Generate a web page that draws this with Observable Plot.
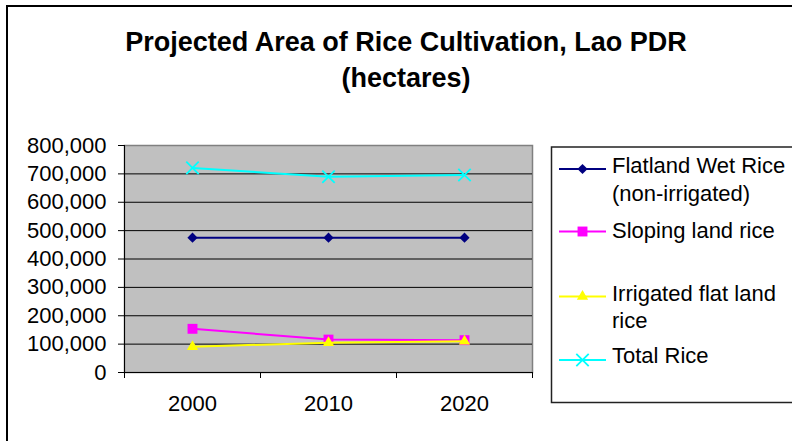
<!DOCTYPE html>
<html><head><meta charset="utf-8">
<script src="https://cdn.jsdelivr.net/npm/d3@7"></script>
<script src="https://cdn.jsdelivr.net/npm/@observablehq/plot@0.6"></script>
<style>
body{margin:0;background:#fff;width:792px;height:441px;overflow:hidden;position:relative;font-family:'Liberation Sans',Arial,sans-serif}
#frame{position:absolute;left:6px;top:5px;width:900px;height:600px;border:2px solid #000;}
#chart{position:absolute;left:0;top:0}
.ov{position:absolute;left:0;top:0;overflow:visible}
</style></head><body>
<div id="frame"></div>
<div id="chart"></div>
<svg id="title" class="ov" width="792" height="100"></svg>
<svg id="legend" class="ov" width="792" height="441"></svg>
<script>
const years = ["2000", "2010", "2020"];
const seriesNames = ["Flatland Wet Rice (non-irrigated)", "Sloping land rice", "Irrigated flat land rice", "Total Rice"];
const flatland = [475000, 475000, 475000];
const sloping = [154000, 116000, 114000];
const irrigated = [91000, 105000, 110000];
const total = [721000, 690000, 696000];
const yTicks = [0, 100000, 200000, 300000, 400000, 500000, 600000, 700000, 800000];
const seriesColors = ["#000080", "#ff00ff", "#ffff00", "#00ffff"];
const seriesSymbols = ["diamond2", "square2", "triangle2", "times"];
const titleLines = ["Projected Area of Rice Cultivation, Lao PDR", "(hectares)"];
const legendLines = [["Flatland Wet Rice", "(non-irrigated)"], ["Sloping land rice"], ["Irrigated flat land", "rice"], ["Total Rice"]];

const seriesValues = [flatland, sloping, irrigated, total];
const rows = seriesNames.flatMap((s, k) => years.map((yr, i) => ({series: s, year: yr, value: seriesValues[k][i]})));

const W = 792, H = 441, ML = 124, MR = 260, MT = 145, MB = 69;
const bw = (W - ML - MR) / years.length;
const symR = [4.6, 6.3, 5.4, 5.7];
const font = "'Liberation Sans', Arial, sans-serif";

const seriesMarks = seriesNames.flatMap((name, k) => {
  const d = rows.filter(r => r.series === name);
  const isStroke = seriesSymbols[k] === "times";
  return [
    Plot.line(d, {x: "year", y: "value", stroke: seriesColors[k], strokeWidth: 2}),
    Plot.dot(d, {x: "year", y: "value", symbol: seriesSymbols[k], r: symR[k],
      fill: isStroke ? "none" : seriesColors[k],
      stroke: isStroke ? seriesColors[k] : "none",
      strokeWidth: isStroke ? 1.8 : 0})
  ];
});

const chart = Plot.plot({
  width: W, height: H,
  marginLeft: ML, marginRight: MR, marginTop: MT, marginBottom: MB,
  x: {type: "band", domain: years, padding: 0},
  y: {domain: [0, 800000]},
  style: {fontFamily: font, fontSize: "22px", background: "transparent", color: "black", overflow: "visible"},
  marks: [
    Plot.frame({fill: "#c0c0c0", stroke: "#808080", strokeWidth: 1.5}),
    Plot.ruleY(yTicks.filter(v => v > 0 && v < 800000), {stroke: "black"}),
    Plot.ruleX([years[0]], {dx: -bw / 2, stroke: "black"}),
    Plot.ruleY([0], {stroke: "black"}),
    Plot.ruleX(years, {y1: 0, y2: 0, insetBottom: -6, dx: -bw / 2, stroke: "black"}),
    Plot.ruleX([years[years.length - 1]], {y1: 0, y2: 0, insetBottom: -6, dx: bw / 2, stroke: "black"}),
    Plot.axisY({ticks: yTicks, tickSize: 6, tickPadding: 12, tickFormat: d3.format(","), label: null}),
    Plot.axisX({tickSize: 0, tickPadding: 23, label: null}),
    ...seriesMarks
  ]
});
document.getElementById("chart").appendChild(chart);

// Title
const tsvg = d3.select("#title");
const titleBase = [51, 87];
titleLines.forEach((t, i) => {
  tsvg.append("text").attr("x", 406).attr("y", titleBase[i])
    .attr("text-anchor", "middle").attr("font-family", font)
    .attr("font-weight", "bold").attr("font-size", 27).attr("fill", "black").text(t);
});

// Legend
const lsvg = d3.select("#legend");
lsvg.append("rect").attr("x", 551.5).attr("y", 147).attr("width", 300).attr("height", 255.5)
  .attr("fill", "white").attr("stroke", "#222").attr("stroke-width", 1.5);
const textBase = [[173, 201], [238], [301, 328], [363]];
const symY = [169, 231.5, 296.5, 360];
const symMap = {diamond2: d3.symbolDiamond2, square2: d3.symbolSquare2, triangle2: d3.symbolTriangle2, times: d3.symbolTimes};
legendLines.forEach((lines, k) => {
  lsvg.append("line").attr("x1", 559).attr("x2", 606).attr("y1", symY[k]).attr("y2", symY[k])
    .attr("stroke", seriesColors[k]).attr("stroke-width", 2);
  const isStroke = seriesSymbols[k] === "times";
  lsvg.append("path").attr("transform", `translate(582.5,${symY[k]})`)
    .attr("d", d3.symbol(symMap[seriesSymbols[k]], Math.PI * symR[k] * symR[k])())
    .attr("fill", isStroke ? "none" : seriesColors[k])
    .attr("stroke", isStroke ? seriesColors[k] : "none")
    .attr("stroke-width", isStroke ? 1.8 : 0);
  lines.forEach((t, j) => {
    lsvg.append("text").attr("x", 612).attr("y", textBase[k][j])
      .attr("font-family", font).attr("font-size", 22).attr("fill", "black").text(t);
  });
});
</script>
</body></html>
